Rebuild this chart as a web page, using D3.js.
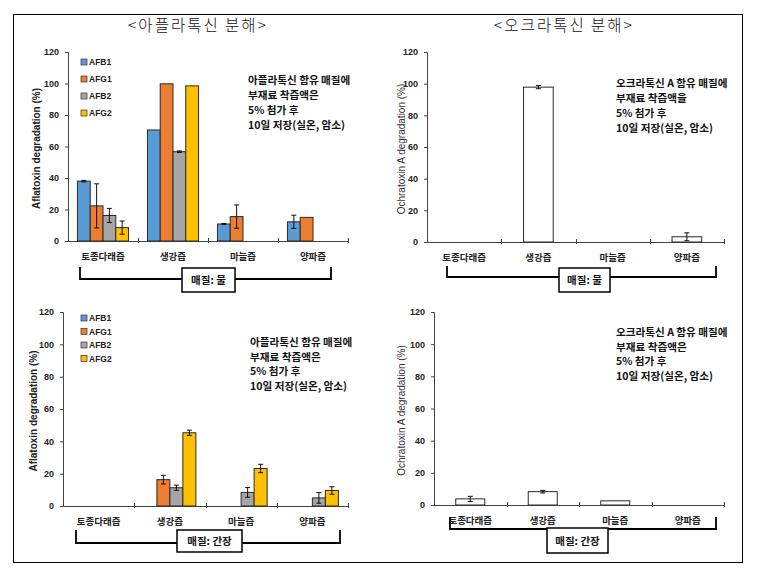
<!DOCTYPE html>
<html><head><meta charset="utf-8">
<script src="https://cdn.jsdelivr.net/npm/d3@7"></script>
<style>
body{margin:0;background:#fff;}
svg{display:block;}
</style></head>
<body>
<svg id="c" width="768" height="570"></svg>
<script>
// ---------- DATA ----------
const categories = ["토종다래즙", "생강즙", "마늘즙", "양파즙"];
const aflaSeries = ["AFB1", "AFG1", "AFB2", "AFG2"];
const aflaColors = ["#5B9BD5", "#ED7D31", "#A5A5A5", "#FFC000"];
const yTicks = [0, 20, 40, 60, 80, 100, 120];

// Aflatoxin, matrix: water (매질: 물)
const waterAFB1 = [38, 70.5, 10.8, 12.2];
const waterAFB1Err = [0.5, 0, 0.3, 4.2];
const waterAFG1 = [22.3, 99.8, 15.5, 15];
const waterAFG1Err = [14, 0, 7.4, 0];
const waterAFB2 = [16.2, 56.7, 0, 0];
const waterAFB2Err = [4.5, 0.5, 0, 0];
const waterAFG2 = [8.5, 98.5, 0, 0];
const waterAFG2Err = [4.2, 0, 0, 0];

// Aflatoxin, matrix: soy sauce (매질: 간장)
const soyAFB1 = [0, 0, 0, 0];
const soyAFB1Err = [0, 0, 0, 0];
const soyAFG1 = [0, 16.3, 0, 0];
const soyAFG1Err = [0, 2.7, 0, 0];
const soyAFB2 = [0, 11.3, 8.4, 5];
const soyAFB2Err = [0, 1.6, 3, 3.3];
const soyAFG2 = [0, 45.3, 23.2, 9.6];
const soyAFG2Err = [0, 1.6, 2.6, 2.3];

// Ochratoxin A
const ochraWater = [0, 97.8, 0, 3.3];
const ochraWaterErr = [0, 1, 0, 2.5];
const ochraSoy = [3.8, 8.3, 2.6, 0];
const ochraSoyErr = [1.6, 0.8, 0, 0];

// Texts
const titleAfla = "<아플라톡신  분해>";
const titleOchra = "<오크라톡신  분해>";
const noteAfla = ["아플라톡신 함유 매질에", "부재료 착즙액은", "5% 첨가 후", "10일 저장(실온, 암소)"];
const noteOchraWater = ["오크라톡신 A 함유 매질에", "부재료 착즙액을", "5% 첨가 후", "10일 저장(실온, 암소)"];
const noteOchraSoy = ["오크라톡신 A 함유 매질에", "부재료 착즙액은", "5% 첨가 후", "10일 저장(실온, 암소)"];
const labelAfla = "Aflatoxin degradation (%)";
const labelOchra = "Ochratoxin A degradation (%)";
const labelOchra2 = "Ochratoxin A  degradation (%)";
const matrixWater = "매질: 물";
const matrixSoy = "매질: 간장";

// ---------- DRAW ----------
const svg = d3.select("#c");
const KR = "'Noto Sans CJK KR', 'Noto Sans', sans-serif";
const AR = "Arial, 'Liberation Sans', sans-serif";

svg.append("rect").attr("x", 13.5).attr("y", 14.5).attr("width", 729).attr("height", 548)
  .attr("fill", "none").attr("stroke", "#000").attr("stroke-width", 1);

svg.append("text").attr("x", 198).attr("y", 31).attr("text-anchor", "middle")
  .attr("font-family", KR).attr("font-weight", 300).attr("font-size", 15.5)
  .attr("letter-spacing", 2).attr("fill", "#111").text(titleAfla);
svg.append("text").attr("x", 564).attr("y", 31).attr("text-anchor", "middle")
  .attr("font-family", KR).attr("font-weight", 300).attr("font-size", 15.5)
  .attr("letter-spacing", 2).attr("fill", "#111").text(titleOchra);

function panel(p) {
  const g = svg.append("g");
  const x = d3.scaleBand().domain(categories).range([p.x0, p.x1]);
  const y = d3.scaleLinear().domain([0, 120]).range([p.y0, p.yTop]);
  const bw = x.bandwidth();

  // y axis
  const ya = g.append("g").attr("transform", `translate(${p.x0},0)`)
    .call(d3.axisLeft(y).tickValues(yTicks).tickSize(3).tickPadding(6));
  ya.select(".domain").attr("stroke", "#444");
  ya.selectAll(".tick line").attr("stroke", "#444");
  ya.selectAll("text").attr("font-family", AR).attr("font-weight", "bold")
    .attr("font-size", 9).attr("fill", "#222");

  // x axis (boundary ticks)
  g.append("line").attr("x1", p.x0).attr("x2", p.x1).attr("y1", p.y0 + 0.5).attr("y2", p.y0 + 0.5)
    .attr("stroke", "#444").attr("stroke-width", 1);
  categories.forEach((c, i) => {
    if (i > 0) {
      const xx = Math.round(x(c)) + 0.5;
      g.append("line").attr("x1", xx).attr("x2", xx).attr("y1", p.y0 - 3).attr("y2", p.y0 + 2)
        .attr("stroke", "#444");
    }
  });
  g.append("line").attr("x1", p.x1 + 0.5).attr("x2", p.x1 + 0.5).attr("y1", p.y0 - 3).attr("y2", p.y0 + 2)
    .attr("stroke", "#444");
  g.selectAll(".cat").data(categories).enter().append("text")
    .attr("x", d => x(d) + bw / 2).attr("y", p.y0 + 19)
    .attr("text-anchor", "middle").attr("font-family", KR).attr("font-weight", "bold")
    .attr("font-size", 9.5).attr("fill", "#222").text(d => d);

  // bars
  const series = p.series;
  const sub = d3.scaleBand().domain(series.map(s => s.name))
    .range(series.length > 1 ? [bw * 0.135, bw * 0.865] : [bw * 0.3, bw * 0.7]);
  series.forEach(s => {
    categories.forEach((c, i) => {
      const v = s.values[i];
      const bx = x(c) + sub(s.name);
      if (v > 0) {
        g.append("rect").attr("x", bx).attr("y", y(v)).attr("width", sub.bandwidth())
          .attr("height", y(0) - y(v)).attr("fill", s.color)
          .attr("stroke", "#2a2a2a").attr("stroke-width", 1);
      }
      const e = s.err[i];
      if (e > 0) {
        const cx = bx + sub.bandwidth() / 2;
        const eg = g.append("g").attr("stroke", "#111").attr("stroke-width", 1);
        eg.append("line").attr("x1", cx).attr("x2", cx).attr("y1", y(v + e)).attr("y2", y(Math.max(0, v - e)));
        eg.append("line").attr("x1", cx - 2.5).attr("x2", cx + 2.5).attr("y1", y(v + e)).attr("y2", y(v + e));
        eg.append("line").attr("x1", cx - 2.5).attr("x2", cx + 2.5).attr("y1", y(Math.max(0, v - e))).attr("y2", y(Math.max(0, v - e)));
      }
    });
  });

  // y label
  g.append("text").attr("transform", `translate(${p.labelX},${(p.y0 + p.yTop) / 2 + 2}) rotate(-90)`)
    .attr("text-anchor", "middle").attr("font-family", AR)
    .attr("font-weight", p.labelBold ? "bold" : "normal").attr("font-size", 10)
    .attr("fill", p.labelBold ? "#222" : "#333").text(p.label);

  // legend
  if (p.legend) {
    series.forEach((s, i) => {
      const ly = p.legend.y + i * p.legend.dy;
      g.append("rect").attr("x", p.legend.x).attr("y", ly - 6).attr("width", 6).attr("height", 6)
        .attr("fill", s.color).attr("stroke", "#333").attr("stroke-width", 0.7);
      g.append("text").attr("x", p.legend.x + 8).attr("y", ly).attr("font-family", AR)
        .attr("font-size", 8.5).attr("font-weight", "bold").attr("fill", "#222").text(s.name);
    });
  }

  // note
  p.note.forEach((t, i) => {
    g.append("text").attr("x", p.noteX).attr("y", p.noteY + i * p.noteDy)
      .attr("font-family", KR).attr("font-weight", 600).attr("font-size", 10.6)
      .attr("fill", "#111").text(t);
  });

  // bracket
  const b = p.bracket;
  g.append("path").attr("d", `M${b.x0},${b.yTop}V${b.y}H${b.x1}V${b.yTop}`)
    .attr("fill", "none").attr("stroke", "#000").attr("stroke-width", 1.8);
  g.append("rect").attr("x", b.bx).attr("y", b.by).attr("width", b.bw).attr("height", b.bh)
    .attr("fill", "#fff").attr("stroke", "#000").attr("stroke-width", 1.5);
  g.append("text").attr("x", b.bx + b.bw / 2).attr("y", b.by + b.bh / 2 + 4)
    .attr("text-anchor", "middle").attr("font-family", KR).attr("font-weight", 600)
    .attr("font-size", 10.5).attr("fill", "#111").text(b.text);
}

function aflaSet(vals, errs) {
  return aflaSeries.map((n, i) => ({ name: n, color: aflaColors[i], values: vals[i], err: errs[i] }));
}

panel({
  x0: 68, x1: 348, yTop: 52, y0: 241, labelX: 40, label: labelAfla, labelBold: true,
  series: aflaSet([waterAFB1, waterAFG1, waterAFB2, waterAFG2], [waterAFB1Err, waterAFG1Err, waterAFB2Err, waterAFG2Err]),
  legend: { x: 81, y: 65, dy: 17 },
  note: noteAfla, noteX: 248, noteY: 84, noteDy: 15,
  bracket: { x0: 80, x1: 331, y: 279, yTop: 267, bx: 182, by: 268, bw: 53, bh: 24, text: matrixWater }
});

panel({
  x0: 427, x1: 724, yTop: 52, y0: 242, labelX: 405, label: labelOchra, labelBold: false,
  series: [{ name: "OTA", color: "#fff", values: ochraWater, err: ochraWaterErr }],
  note: noteOchraWater, noteX: 616, noteY: 87, noteDy: 15,
  bracket: { x0: 447, x1: 716, y: 277, yTop: 266, bx: 559, by: 268, bw: 51, bh: 24, text: matrixWater }
});

panel({
  x0: 63, x1: 348, yTop: 312, y0: 506, labelX: 37, label: labelAfla, labelBold: true,
  series: aflaSet([soyAFB1, soyAFG1, soyAFB2, soyAFG2], [soyAFB1Err, soyAFG1Err, soyAFB2Err, soyAFG2Err]),
  legend: { x: 81, y: 321, dy: 13.5 },
  note: noteAfla, noteX: 250, noteY: 346, noteDy: 14.5,
  bracket: { x0: 76, x1: 340, y: 543, yTop: 530, bx: 177, by: 530, bw: 65, bh: 22, text: matrixSoy }
});

panel({
  x0: 434, x1: 724, yTop: 312, y0: 505, labelX: 405, label: labelOchra2, labelBold: false,
  series: [{ name: "OTA", color: "#fff", values: ochraSoy, err: ochraSoyErr }],
  note: noteOchraSoy, noteX: 616, noteY: 336, noteDy: 14.5,
  bracket: { x0: 450, x1: 716, y: 529, yTop: 517, bx: 547, by: 528, bw: 61, bh: 25, text: matrixSoy }
});
</script>
</body></html>
